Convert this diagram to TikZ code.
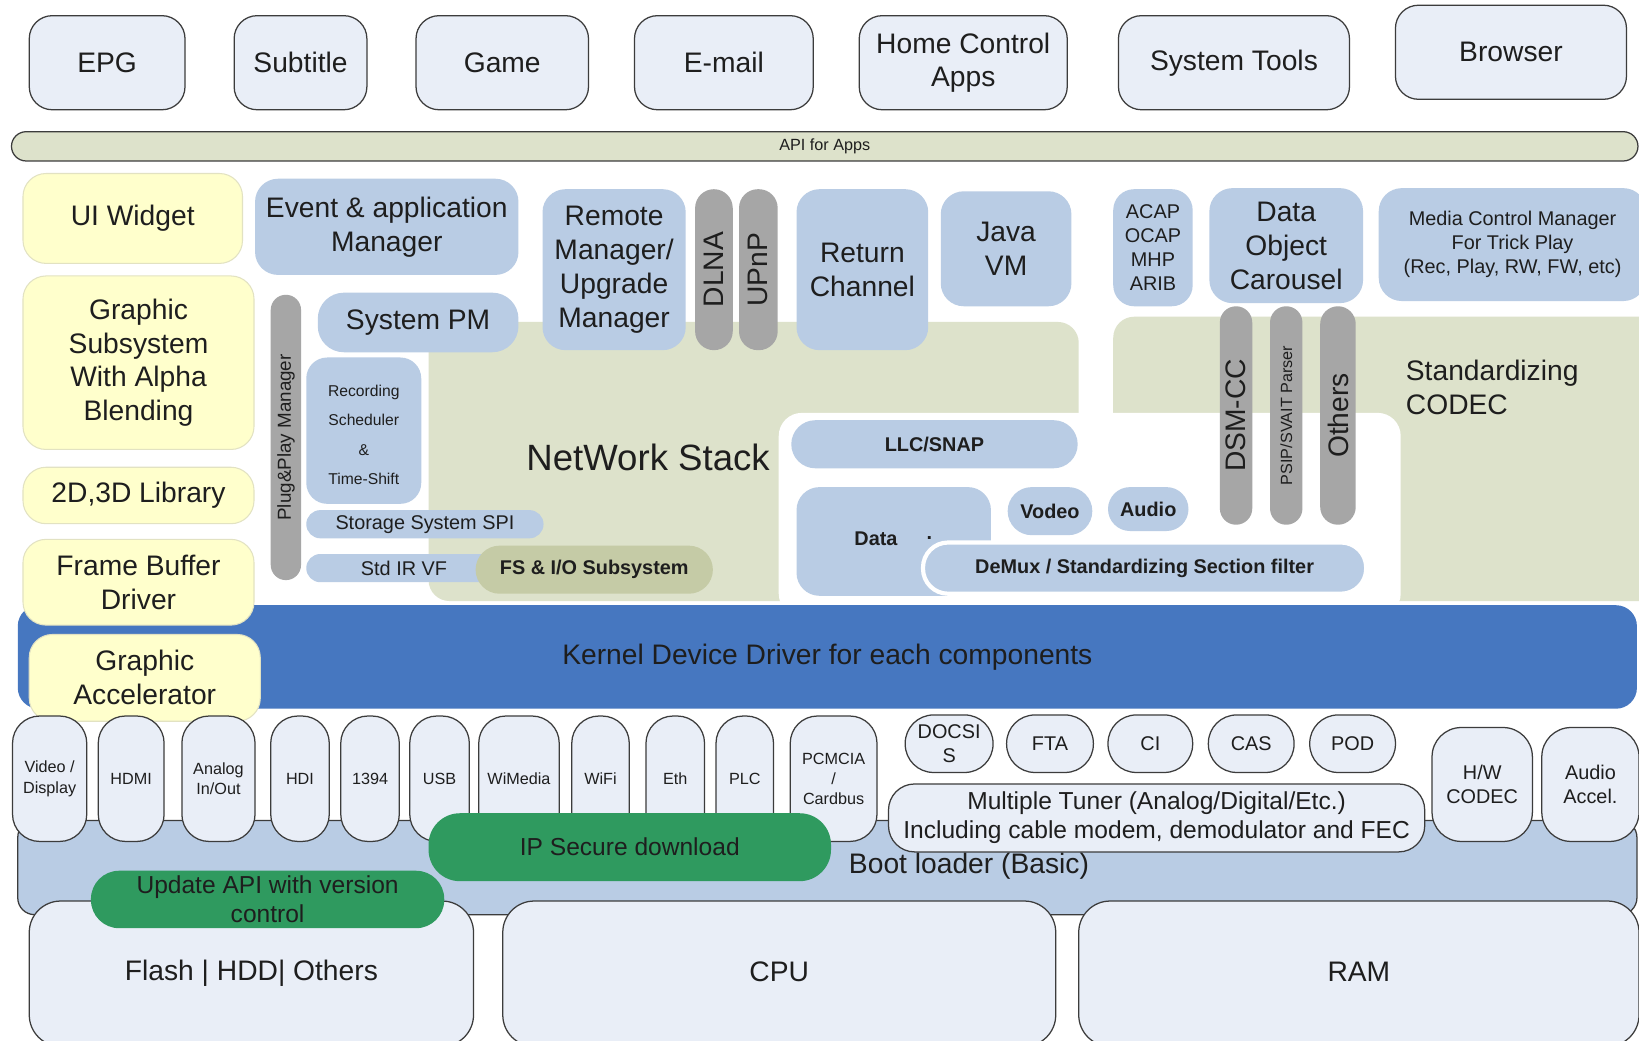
\documentclass[tikz,border=0pt]{standalone}
\usepackage{fontspec}
\setmainfont{Liberation Sans}

\definecolor{appfill}{HTML}{E9EEF7}
\definecolor{edge}{HTML}{3C3C3C}
\definecolor{olive}{HTML}{DDE2CB}
\definecolor{oliveD}{HTML}{C5CBA6}
\definecolor{ylw}{HTML}{FFFFCC}
\definecolor{ylwedge}{HTML}{E2E2C2}
\definecolor{lblue}{HTML}{B9CCE4}
\definecolor{pgray}{HTML}{A6A6A6}
\definecolor{kblue}{HTML}{4677C0}
\definecolor{grn}{HTML}{2F9A5F}
\definecolor{ink}{HTML}{1E1E1E}

% block: name, style, x1, y1, x2, y2, text  (top-left / bottom-right corners)
\newcommand\blk[7]{%
  \node[#2, anchor=north west, minimum width={(#5-#3)*1pt},
        minimum height={(#6-#4)*1pt}] (#1) at (#3,#4) {#7};}

\tikzset{
  fbig/.style={font=\fontsize{27}{32.5}\selectfont},
  fmid/.style={font=\fontsize{23.5}{28}\selectfont},
  fsm/.style={font=\fontsize{19}{23}\selectfont},
  fbold/.style={font=\fontsize{19}{23}\selectfont\bfseries},
  ftiny/.style={font=\fontsize{15.5}{20}\selectfont},
  nb/.style={inner sep=0pt, outer sep=0pt, align=center, text=ink},
  app/.style={nb, fbig, fill=appfill, draw=edge, line width=1.2pt, rounded corners=22pt},
  ybox/.style={nb, fbig, fill=ylw, draw=ylwedge, line width=1pt, rounded corners=22pt},
  lbox/.style={nb, fill=lblue, rounded corners=#1},
  pill/.style={nb, fill=pgray, rounded corners=#1},
  hw/.style={nb, ftiny, fill=appfill, draw=edge, line width=1.2pt, rounded corners=#1},
  gbox/.style={nb, fmid, fill=grn, rounded corners=#1},
}

\begin{document}
\begin{tikzpicture}[x=1pt, y=-1pt]
\useasboundingbox (0,0) rectangle (1568,995);
\fill[white] (0,0) rectangle (1568,995);
\clip (0,0) rectangle (1568,995);

% ---- applications ----
\blk{epg}{app}{28}{15}{177}{105}{EPG}
\blk{subtitle}{app}{224}{15}{351}{105}{Subtitle}
\blk{game}{app}{398}{15}{563}{105}{Game}
\blk{email}{app}{607}{15}{778}{105}{E-mail}
\blk{homectl}{app}{822}{15}{1021}{105}{Home Control\\Apps}
\blk{systools}{app}{1070}{15}{1291}{105}{System Tools}
\blk{browser}{app}{1335}{5}{1556}{95}{Browser}
\blk{api}{nb, fill=olive, draw=edge, line width=1.2pt, rounded corners=14pt,
  font=\fontsize{15.5}{18}\selectfont}{11}{126}{1567}{154}{API for Apps}

% ---- middleware background areas ----
\blk{netstack}{nb, fill=olive, rounded corners=20pt}{410}{308}{1032}{575}{}
\blk{codec}{nb, fill=olive, rounded corners=20pt}{1065}{303}{1590}{575}{}
\blk{demuxarea}{nb, fill=white, rounded corners=22pt}{745}{395}{1340}{590}{}
\node[nb, font=\fontsize{35}{40}\selectfont] (nettitle) at (620,438) {NetWork Stack};
\node[nb, fbig, align=left, anchor=west] (codectitle) at (1345,371) {Standardizing\\CODEC};

% ---- middleware components ----
\blk{evtmgr}{lbox=22pt, fbig}{244}{171}{496}{263}{Event \& application\\Manager}
\blk{remote}{lbox=22pt, fbig}{519}{181}{656}{335}{Remote\\Manager/\\Upgrade\\Manager}
\blk{dlna}{pill=18pt, label={[nb, rotate=90, fbig]center:DLNA}}{665}{181}{701}{335}{}
\blk{upnp}{pill=18pt, label={[nb, rotate=90, fbig]center:UPnP}}{707}{181}{744}{335}{}
\blk{retch}{lbox=22pt, fbig}{762}{181}{888}{335}{Return\\Channel}
\blk{javavm}{lbox=22pt, fbig}{900}{183}{1025}{293}{Java\\VM}
\blk{acap}{lbox=20pt, fsm}{1065}{181}{1141}{293}{ACAP\\OCAP\\MHP\\ARIB}
\blk{carousel}{lbox=22pt, fbig}{1157}{180}{1304}{290}{Data\\Object\\Carousel}
\blk{mediactl}{lbox=22pt, fsm}{1319}{180}{1575}{288}{Media Control Manager\\For Trick Play\\(Rec, Play, RW, FW, etc)}

\blk{pnpmgr}{pill=14.5pt, label={[nb, rotate=90, font=\fontsize{18}{20}\selectfont]center:Plug\&Play Manager}}{259}{282}{288}{555}{}
\blk{syspm}{lbox=25pt, fbig}{304}{280}{496}{337}{System PM}
\blk{recsched}{lbox=20pt, font=\fontsize{15}{28}\selectfont}{293}{342}{403}{482}{\rule{0pt}{19pt}Recording\\Scheduler\\\&\\Time-Shift}
\blk{storage}{lbox=13.5pt, fsm}{293}{488}{520}{515}{Storage System SPI}
\blk{stdir}{lbox=13.5pt, fsm}{293}{530}{480}{557}{Std IR VF}
\blk{fsio}{nb, fbold, fill=oliveD, rounded corners=23pt}{455}{522}{682}{568}{FS \& I/O Subsystem}

\blk{llcsnap}{lbox=23pt, fbold}{757}{402}{1031}{448}{LLC/SNAP}
\blk{datab}{lbox=22pt}{762}{466}{948}{570}{}
\node[nb, fbold] (datalabel) at (838,515) {Data};
\node[nb, fbold] (datadot) at (889,515) {.};
\blk{vodeo}{lbox=23pt, fbold}{964}{466}{1045}{512}{Vodeo}
\blk{audio}{lbox=21pt, fbold}{1060}{466}{1137}{508}{Audio}
\blk{demux}{lbox=24pt, fbold, draw=white, line width=4pt}{883}{519}{1307}{568}{DeMux / Standardizing Section filter}

\blk{dsmcc}{pill=15.5pt, label={[nb, rotate=90, fbig]center:DSM-CC}}{1167}{293}{1198}{502}{}
\blk{psip}{pill=15.5pt, label={[nb, rotate=90, font=\fontsize{15.5}{18}\selectfont]center:PSIP/SVAIT Parser}}{1215}{293}{1246}{502}{}
\blk{others}{pill=17pt, label={[nb, rotate=90, fbig]center:Others}}{1263}{293}{1297}{502}{}

% ---- kernel ----
\blk{kernel}{nb, fill=kblue, rounded corners=20pt, fbig}{17}{579}{1566}{678}{Kernel Device Driver for each components}

% ---- graphics stack ----
\blk{uiwidget}{ybox}{22}{166}{232}{252}{UI Widget}
\blk{gsubsys}{ybox}{22}{264}{243}{430}{Graphic\\Subsystem\\With Alpha\\Blending}
\blk{lib}{ybox}{22}{447}{243}{501}{2D,3D Library}
\blk{fbdrv}{ybox}{22}{516}{243}{598}{Frame Buffer\\Driver}
\blk{gaccel}{ybox}{28}{607}{249}{690}{Graphic\\Accelerator}

% ---- boot loader and hardware interfaces ----
\blk{bootldr}{nb, fill=lblue, draw=edge, line width=1.2pt, rounded corners=16pt}{17}{785}{1566}{875}{}
\node[nb, fbig] (boottext) at (927,829) {Boot loader (Basic)};

\blk{viddisp}{hw=26pt}{12}{685}{83}{805}{Video /\\Display}
\blk{hdmi}{hw=26pt}{94}{685}{157}{805}{HDMI}
\blk{analog}{hw=26pt}{174}{685}{244}{805}{Analog\\In/Out}
\blk{hdi}{hw=26pt}{259}{685}{315}{805}{HDI}
\blk{fw1394}{hw=26pt}{326}{685}{382}{805}{1394}
\blk{usb}{hw=26pt}{392}{685}{449}{805}{USB}
\blk{wimedia}{hw=26pt}{458}{685}{535}{805}{WiMedia}
\blk{wifi}{hw=26pt}{547}{685}{602}{805}{WiFi}
\blk{eth}{hw=26pt}{618}{685}{674}{805}{Eth}
\blk{plc}{hw=26pt}{685}{685}{740}{805}{PLC}
\blk{pcmcia}{hw=26pt, font=\fontsize{15.5}{19}\selectfont}{756}{685}{839}{805}{PCMCIA\\/\\Cardbus}

\blk{docsis}{hw=27pt, fsm}{866}{684}{950}{739}{DOCSI\\S}
\blk{fta}{hw=27pt, fsm}{963}{684}{1046}{739}{FTA}
\blk{ci}{hw=27pt, fsm}{1060}{684}{1141}{739}{CI}
\blk{cas}{hw=27pt, fsm}{1156}{684}{1238}{739}{CAS}
\blk{pod}{hw=27pt, fsm}{1253}{684}{1335}{739}{POD}
\blk{tuner}{hw=25pt, fmid}{850}{750}{1363}{815}{Multiple Tuner (Analog/Digital/Etc.)\\Including cable modem, demodulator and FEC}
\blk{hwcodec}{hw=28pt, fsm}{1370}{696}{1466}{805}{H/W\\CODEC}
\blk{audaccel}{hw=28pt, fsm}{1475}{696}{1568}{805}{Audio\\Accel.}

\blk{ipsecure}{gbox=30pt}{410}{778}{795}{843}{IP Secure download}

% ---- hardware (lower edges run just past the page) ----
\blk{flash}{app, rounded corners=30pt}{28}{862}{453}{1001}{\raisebox{3pt}{Flash | HDD| Others}}
\blk{cpu}{app, rounded corners=30pt}{481}{862}{1010}{1001}{\raisebox{3pt}{CPU}}
\blk{ram}{app, rounded corners=30pt}{1032}{862}{1568}{1001}{\raisebox{3pt}{RAM}}

\blk{updapi}{gbox=27pt}{87}{833}{425}{888}{Update API with version\\control}
\end{tikzpicture}
\end{document}
